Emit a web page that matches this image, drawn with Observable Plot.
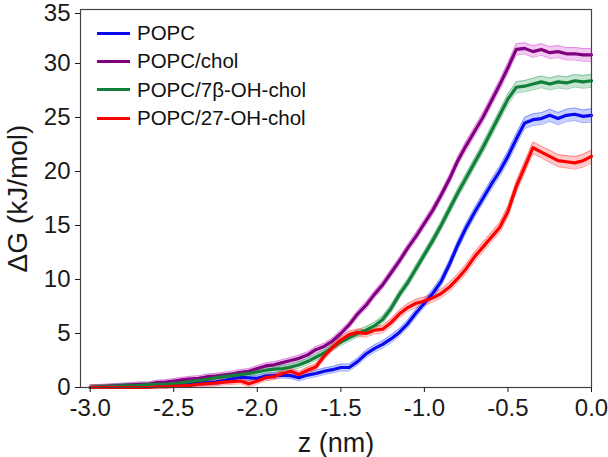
<!DOCTYPE html>
<html>
<head>
<meta charset="utf-8">
<script src="https://cdn.jsdelivr.net/npm/d3@7"></script>
<script src="https://cdn.jsdelivr.net/npm/@observablehq/plot@0.6"></script>
<style>
  html, body { margin: 0; padding: 0; background: #fff; overflow: hidden; }
  #wrap { position: relative; width: 608px; height: 457px; font-family: "Liberation Sans", Arial, sans-serif; }
  #legend { position: absolute; left: 97px; top: 19px; }
  .row { height: 28.3px; display: flex; align-items: center; font-size: 20.5px; color: #111; }
  .sw { width: 33px; height: 3px; margin-right: 7px; }
</style>
</head>
<body>
<div id="wrap"><div id="legend"></div></div>
<script>
// z positions (nm)
const z = [-3.00,-2.95,-2.90,-2.85,-2.80,-2.75,-2.70,-2.65,-2.60,-2.55,
           -2.50,-2.45,-2.40,-2.35,-2.30,-2.25,-2.20,-2.15,-2.10,-2.05,
           -2.00,-1.95,-1.90,-1.85,-1.80,-1.75,-1.70,-1.65,-1.60,-1.55,
           -1.50,-1.45,-1.40,-1.35,-1.30,-1.25,-1.20,-1.15,-1.10,-1.05,
           -1.00,-0.95,-0.90,-0.85,-0.80,-0.75,-0.70,-0.65,-0.60,-0.55,
           -0.50,-0.45,-0.40,-0.35,-0.30,-0.25,-0.20,-0.15,-0.10,-0.05,0.00];

const seriesNames = ["POPC", "POPC/chol", "POPC/7β-OH-chol", "POPC/27-OH-chol"];
const lineColors = ["#0a0af0", "#800080", "#12803a", "#ff0000"];
const bandColors = ["#3a55ff", "#d040d0", "#3aa060", "#ff3a3a"];

const popc = [0.0,0.0,0.05,0.05,0.1,0.1,0.15,0.15,0.2,0.2,
              0.25,0.3,0.35,0.4,0.45,0.5,0.65,0.8,0.95,0.9,
              0.85,1.05,1.1,1.15,1.1,0.9,1.15,1.3,1.5,1.65,
              1.85,1.85,2.4,3.1,3.6,4.0,4.5,5.1,5.9,6.9,
              7.8,8.7,9.8,11.4,13.2,14.8,16.2,17.5,18.8,20.0,
              21.4,23.0,24.5,24.8,24.9,25.2,24.9,25.2,25.3,25.1,25.2];

const popcChol = [0.0,0.05,0.1,0.15,0.2,0.25,0.3,0.3,0.45,0.5,
                  0.6,0.7,0.8,0.85,1.0,1.05,1.15,1.25,1.4,1.5,
                  1.75,2.0,2.1,2.3,2.5,2.7,3.0,3.5,3.8,4.3,
                  5.0,5.8,6.8,7.6,8.6,9.5,10.6,11.7,12.9,14.0,
                  15.2,16.4,17.8,19.3,21.0,22.4,23.7,25.0,26.5,28.0,
                  29.6,31.3,31.4,31.1,31.3,31.0,31.1,30.9,30.9,30.8,30.8];

const popc7b = [0.0,0.05,0.05,0.1,0.15,0.15,0.2,0.25,0.3,0.3,
                0.35,0.45,0.55,0.65,0.75,0.9,1.0,1.1,1.2,1.3,
                1.45,1.6,1.7,1.75,1.9,2.1,2.4,2.8,3.2,3.7,
                4.2,4.6,5.0,5.3,5.7,6.3,7.3,8.6,9.7,11.0,
                12.3,13.6,15.0,16.5,18.0,19.4,20.8,22.2,23.7,25.2,
                26.7,27.8,27.9,28.1,28.3,28.1,28.3,28.2,28.4,28.3,28.4];

const popc27 = [0.0,0.0,0.0,0.0,0.0,0.0,0.0,0.0,0.05,0.05,
                0.1,0.15,0.2,0.3,0.35,0.4,0.5,0.55,0.6,0.35,
                0.6,0.9,1.0,1.3,1.5,1.2,1.6,1.9,2.9,3.7,
                4.4,4.9,5.1,5.0,5.3,5.4,6.0,6.8,7.4,7.8,
                8.0,8.3,8.7,9.3,10.1,11.0,12.1,13.0,13.9,14.8,
                16.3,18.6,20.4,22.2,21.8,21.4,21.0,20.9,20.8,21.0,21.4];

// standard error half-width (kJ/mol), shared by all series
const err = [0.22,0.22,0.22,0.22,0.22,0.22,0.22,0.22,0.22,0.22,
             0.24,0.24,0.24,0.24,0.24,0.26,0.26,0.26,0.26,0.26,
             0.28,0.28,0.28,0.28,0.28,0.3,0.3,0.3,0.3,0.3,
             0.32,0.32,0.32,0.34,0.34,0.34,0.36,0.36,0.36,0.38,
             0.38,0.4,0.4,0.42,0.42,0.44,0.44,0.46,0.46,0.48,
             0.5,0.52,0.52,0.54,0.54,0.56,0.56,0.57,0.58,0.59,0.6];

const xTicks = [-3.0, -2.5, -2.0, -1.5, -1.0, -0.5, 0.0];
const yTicks = [0, 5, 10, 15, 20, 25, 30];
const yTopTick = [35];

const allValues = [popc, popcChol, popc7b, popc27];

const bandMarks = [];
const lineMarks = [];
allValues.forEach((vals, i) => {
  const rows = z.map((zz, k) => ({z: zz, g: vals[k], lo: Math.max(0, vals[k] - err[k]), hi: vals[k] + err[k]}));
  bandMarks.push(Plot.areaY(rows, {x: "z", y1: "lo", y2: "hi", fill: bandColors[i], fillOpacity: 0.28}));
  bandMarks.push(Plot.lineY(rows, {x: "z", y: "lo", stroke: bandColors[i], strokeOpacity: 0.5, strokeWidth: 1}));
  bandMarks.push(Plot.lineY(rows, {x: "z", y: "hi", stroke: bandColors[i], strokeOpacity: 0.5, strokeWidth: 1}));
  lineMarks.push(Plot.lineY(rows, {x: "z", y: "g", stroke: lineColors[i], strokeWidth: 3.2, strokeLinejoin: "round"}));
});

const chart = Plot.plot({
  width: 608,
  height: 457,
  marginLeft: 80,
  marginRight: 17,
  marginTop: 9,
  marginBottom: 70,
  x: {domain: [-3.058, 0]},
  y: {domain: [0, 35]},
  style: {fontFamily: "'Liberation Sans', Arial, sans-serif", fontSize: "24px", color: "#1a1a1a", background: "white", overflow: "visible"},
  marks: [
    ...bandMarks,
    ...lineMarks,
    Plot.frame({stroke: "#444", strokeWidth: 1.2}),
    Plot.axisX({ticks: xTicks, tickFormat: d => d.toFixed(1), tickSize: 5, tickPadding: 6, fontSize: 24,
                label: null}),
    Plot.axisX({ticks: [], tickSize: 0, fontSize: 27,
                label: "z (nm)", labelAnchor: "center", labelArrow: "none", labelOffset: 64}),
    Plot.axisY({ticks: yTicks, tickSize: 5, tickPadding: 5, fontSize: 24, label: null}),
    Plot.axisY({ticks: yTopTick, tickSize: 5, tickPadding: 5, fontSize: 24, label: null, dy: 4}),
    Plot.axisY({ticks: [], tickSize: 0, fontSize: 28,
                label: "ΔG (kJ/mol)", labelAnchor: "center", labelArrow: "none", labelOffset: 73})
  ]
});
document.getElementById("wrap").appendChild(chart);

const legend = document.getElementById("legend");
seriesNames.forEach((name, i) => {
  const row = document.createElement("div");
  row.className = "row";
  const sw = document.createElement("div");
  sw.className = "sw";
  sw.style.background = lineColors[i];
  const t = document.createElement("span");
  t.textContent = name;
  row.appendChild(sw);
  row.appendChild(t);
  legend.appendChild(row);
});
</script>
</body>
</html>
